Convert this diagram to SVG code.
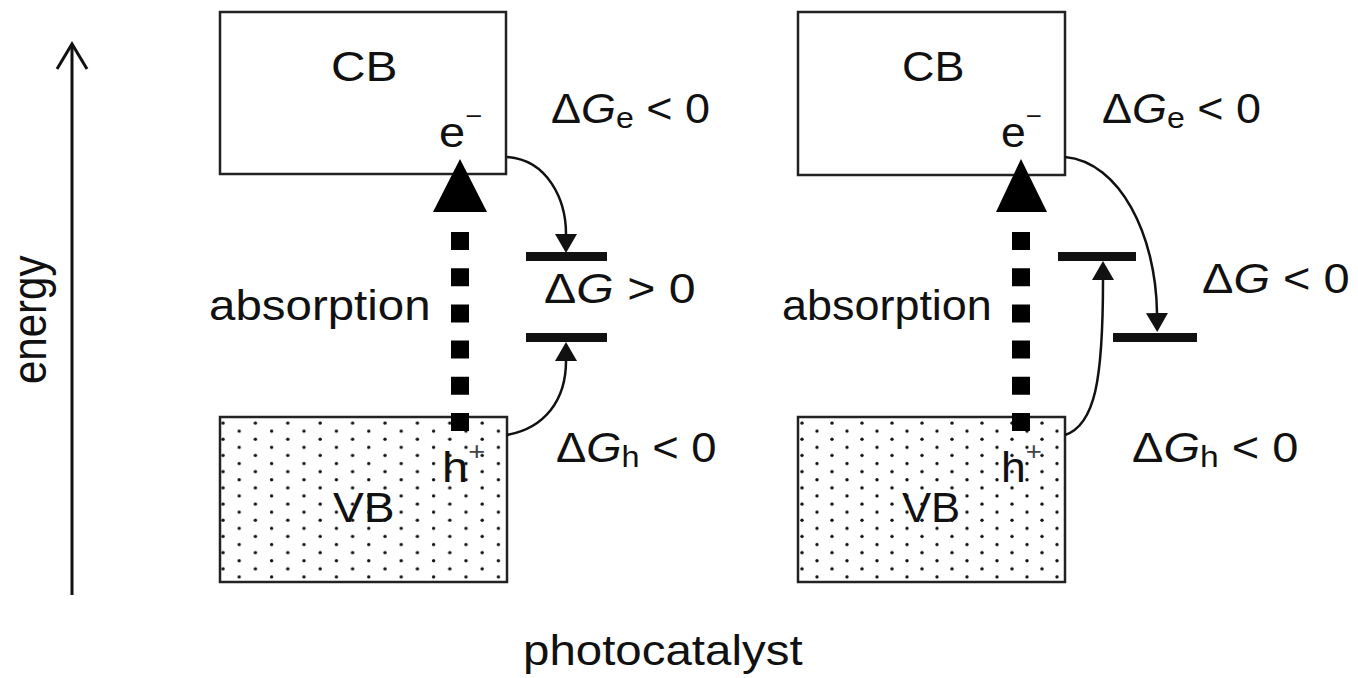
<svg xmlns="http://www.w3.org/2000/svg" width="1358" height="678" viewBox="0 0 1358 678">
<style>
.t{font-family:"Liberation Sans",Arial,sans-serif;font-size:42px;fill:#111}
.box{fill:#fff;stroke:#222;stroke-width:2.5}
.cur{fill:none;stroke:#111;stroke-width:2.5}
.bar{fill:#111}
.dash{stroke:#000;stroke-width:18;stroke-dasharray:18 18.2}
.sup{font-size:26px}
.sub{font-size:30px}
</style>
<defs>
<pattern id="dotsL" x="215" y="419" width="32.4" height="16.2" patternUnits="userSpaceOnUse">
<circle cx="8" cy="4" r="1.7" fill="#111"/>
<circle cx="24.2" cy="12.1" r="1.7" fill="#111"/>
</pattern>
<pattern id="dotsR" x="794" y="419" width="30" height="16.2" patternUnits="userSpaceOnUse">
<circle cx="8" cy="4" r="1.7" fill="#111"/>
<circle cx="23" cy="12.1" r="1.7" fill="#111"/>
</pattern>
<marker id="ah" markerUnits="userSpaceOnUse" markerWidth="20" markerHeight="24" refX="0" refY="11" orient="auto" viewBox="0 0 20 22">
<path d="M0,0 L19,11 L0,22 z" fill="#111"/>
</marker>
</defs>
<rect width="1358" height="678" fill="#fff"/>

<g id="axis">
<line x1="72" y1="595" x2="72" y2="44" stroke="#111" stroke-width="3"/>
<polyline points="57,69 72,44 87,69" fill="none" stroke="#111" stroke-width="3"/>
<text class="t" transform="translate(46,384) scale(1.13,1) rotate(-90)">energy</text>
</g>

<g id="cb-left">
<rect class="box" x="220" y="12" width="286" height="162"/>
<text class="t" transform="translate(331,81) scale(1.14,1)">CB</text>
<text class="t" transform="translate(439,147) scale(1.12,1)">e<tspan class="sup" dy="-22">−</tspan></text>
</g>
<g id="vb-left">
<rect x="220" y="417" width="287" height="165" fill="url(#dotsL)" stroke="#222" stroke-width="2.5"/>
<text class="t" transform="translate(333,522) scale(1.1,1)">VB</text>
<text class="t" transform="translate(442,482) scale(1.12,1)">h<tspan class="sup" dy="-22" fill="#444">+</tspan></text>
</g>
<g id="levels-left">
<rect class="bar" x="526" y="252" width="81" height="9"/>
<rect class="bar" x="526" y="333" width="81" height="9"/>
</g>
<g id="labels-left">
<text class="t" transform="translate(209,320) scale(1.13,1)">absorption</text>
<text class="t" transform="translate(551,123) scale(1.07,1)">Δ<tspan font-style="italic">G</tspan><tspan class="sub" dy="5">e</tspan><tspan dy="-5"> &lt; 0</tspan></text>
<text class="t" transform="translate(544,303) scale(1.15,1)">Δ<tspan font-style="italic">G</tspan> &gt; 0</text>
<text class="t" transform="translate(556,462) scale(1.08,1)">Δ<tspan font-style="italic">G</tspan><tspan class="sub" dy="5">h</tspan><tspan dy="-5"> &lt; 0</tspan></text>
</g>

<g id="cb-right">
<rect class="box" x="798" y="12" width="267" height="163"/>
<text class="t" transform="translate(902,81) scale(1.07,1)">CB</text>
<text class="t" transform="translate(1001,147) scale(1.06,1)">e<tspan class="sup" dy="-22">−</tspan></text>
</g>
<g id="vb-right">
<rect x="798" y="417" width="267" height="165" fill="url(#dotsR)" stroke="#222" stroke-width="2.5"/>
<text class="t" transform="translate(902,522) scale(1.04,1)">VB</text>
<text class="t" transform="translate(1001,482) scale(1.06,1)">h<tspan class="sup" dy="-22" fill="#444">+</tspan></text>
</g>
<g id="levels-right">
<rect class="bar" x="1058" y="252" width="78" height="9"/>
<rect class="bar" x="1113" y="333" width="84" height="9"/>
</g>
<g id="labels-right">
<text class="t" transform="translate(782,320) scale(1.07,1)">absorption</text>
<text class="t" transform="translate(1102,123) scale(1.07,1)">Δ<tspan font-style="italic">G</tspan><tspan class="sub" dy="5">e</tspan><tspan dy="-5"> &lt; 0</tspan></text>
<text class="t" transform="translate(1202,293) scale(1.12,1)">Δ<tspan font-style="italic">G</tspan> &lt; 0</text>
<text class="t" transform="translate(1132,462) scale(1.12,1)">Δ<tspan font-style="italic">G</tspan><tspan class="sub" dy="5">h</tspan><tspan dy="-5"> &lt; 0</tspan></text>
</g>

<g id="connectors">
<line class="dash" x1="460" y1="232" x2="460" y2="431"/>
<polygon points="460,159 433,212 487,212" fill="#000"/>
<path class="cur" d="M507,157 C548,160 566,200 566,234" marker-end="url(#ah)"/>
<path class="cur" d="M507,435 C545,428 566,400 566,361" marker-end="url(#ah)"/>
<line class="dash" x1="1021" y1="232" x2="1021" y2="431"/>
<polygon points="1021,159 996,212 1047,212" fill="#000"/>
<path class="cur" d="M1065,157 C1120,162 1156,235 1157,313" marker-end="url(#ah)"/>
<path class="cur" d="M1065,435 C1095,425 1103,380 1103,280" marker-end="url(#ah)"/>
</g>

<text class="t" transform="translate(523,665) scale(1.13,1)">photocatalyst</text>
</svg>
